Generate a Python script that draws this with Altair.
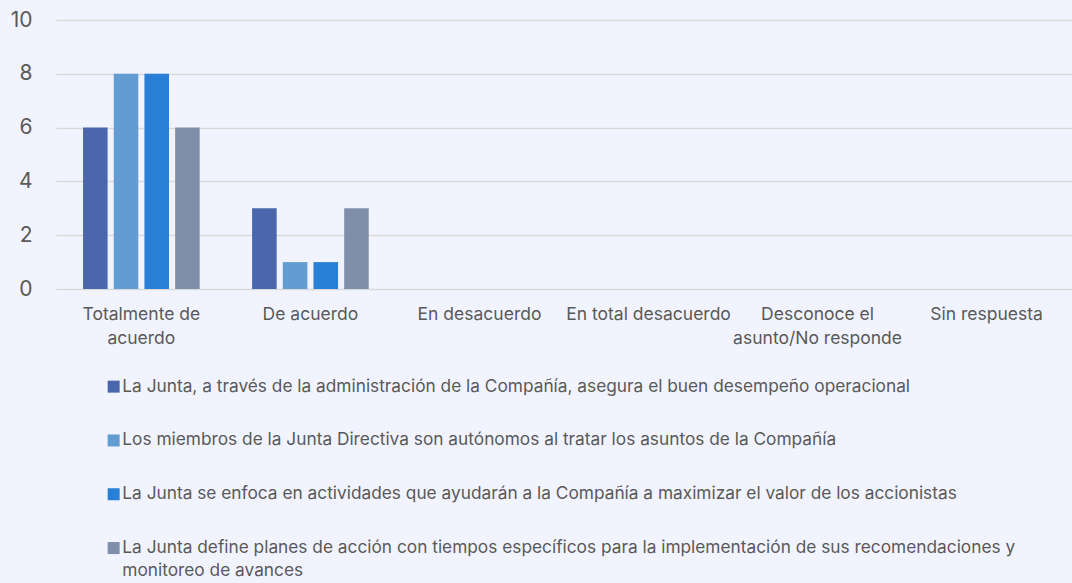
import altair as alt
import pandas as pd

categories = ["Totalmente de acuerdo", "De acuerdo", "En desacuerdo", "En total desacuerdo",
              "Desconoce el asunto/No responde", "Sin respuesta"]
cat_labels = {
    "Totalmente de acuerdo": ["Totalmente de", "acuerdo"],
    "De acuerdo": ["De acuerdo"],
    "En desacuerdo": ["En desacuerdo"],
    "En total desacuerdo": ["En total desacuerdo"],
    "Desconoce el asunto/No responde": ["Desconoce el", "asunto/No responde"],
    "Sin respuesta": ["Sin respuesta"],
}
series = [
    "La Junta, a través de la administración de la Compañía, asegura el buen desempeño operacional",
    "Los miembros de la Junta Directiva son autónomos al tratar los asuntos de la Compañía",
    "La Junta se enfoca en actividades que ayudarán a la Compañía a maximizar el valor de los accionistas",
    "La Junta define planes de acción con tiempos específicos para la implementación de sus recomendaciones y monitoreo de avances",
]
values = [
    [6, 3, 0, 0, 0, 0],
    [8, 1, 0, 0, 0, 0],
    [8, 1, 0, 0, 0, 0],
    [6, 3, 0, 0, 0, 0],
]
colors = ["#4A66AC", "#629DD1", "#297FD5", "#7F8FA9"]

rows = []
for si, s in enumerate(series):
    for ci, c in enumerate(categories):
        rows.append({"cat": c, "serie": s, "order": si, "value": values[si][ci]})
df = pd.DataFrame(rows)

label_expr_parts = []
for c, lines in cat_labels.items():
    arr = "[" + ",".join("'" + l + "'" for l in lines) + "]"
    label_expr_parts.append(f"datum.value == '{c}' ? {arr}")
x_label_expr = " : ".join(label_expr_parts) + " : datum.value"

legend_expr = ("datum.value == '" + series[3] + "' ? ['La Junta define planes de acción con tiempos específicos para la implementación de sus recomendaciones y', 'monitoreo de avances'] : datum.value")

font = "Inter"

chart = alt.Chart(df).mark_bar().encode(
    x=alt.X("cat:N", sort=categories, title=None,
            scale=alt.Scale(paddingInner=0.31, paddingOuter=0.16),
            axis=alt.Axis(labelAngle=0, labelExpr=x_label_expr, domain=False, ticks=False,
                          labelPadding=16, labelFontSize=17.5, labelColor="#595959",
                          labelFont=font, labelLineHeight=24, labelLimit=300)),
    xOffset=alt.XOffset("serie:N", sort=series, scale=alt.Scale(paddingInner=0.2)),
    y=alt.Y("value:Q", title=None, scale=alt.Scale(domain=[0, 10]),
            axis=alt.Axis(values=[0, 2, 4, 6, 8, 10], domain=False, ticks=False,
                          labelPadding=24, labelFontSize=21, labelColor="#595959",
                          labelFont=font, gridColor="#D9D9D9", gridWidth=1.5)),
    color=alt.Color("serie:N", sort=series, title=None,
                    scale=alt.Scale(domain=series, range=colors),
                    legend=alt.Legend(orient="none", legendX=49, legendY=358, direction="vertical",
                                      symbolType="square", symbolSize=144, symbolStrokeWidth=0,
                                      labelFontSize=17.3, labelColor="#595959", labelFont=font,
                                      labelLimit=1100, rowPadding=35.8, labelOffset=0,
                                      labelExpr=legend_expr)),
).properties(
    width=1016, height=269,
    padding={"left": 56, "top": 20, "right": 0, "bottom": 294},
    autosize=alt.AutoSizeParams(type="none"),
    background="#F1F4FE",
)

chart = chart.configure(style={"guide-label": {"lineHeight": 23}}).configure_view(strokeWidth=0)

chart.save("out.html", embed_options={"renderer": "svg", "actions": False})
